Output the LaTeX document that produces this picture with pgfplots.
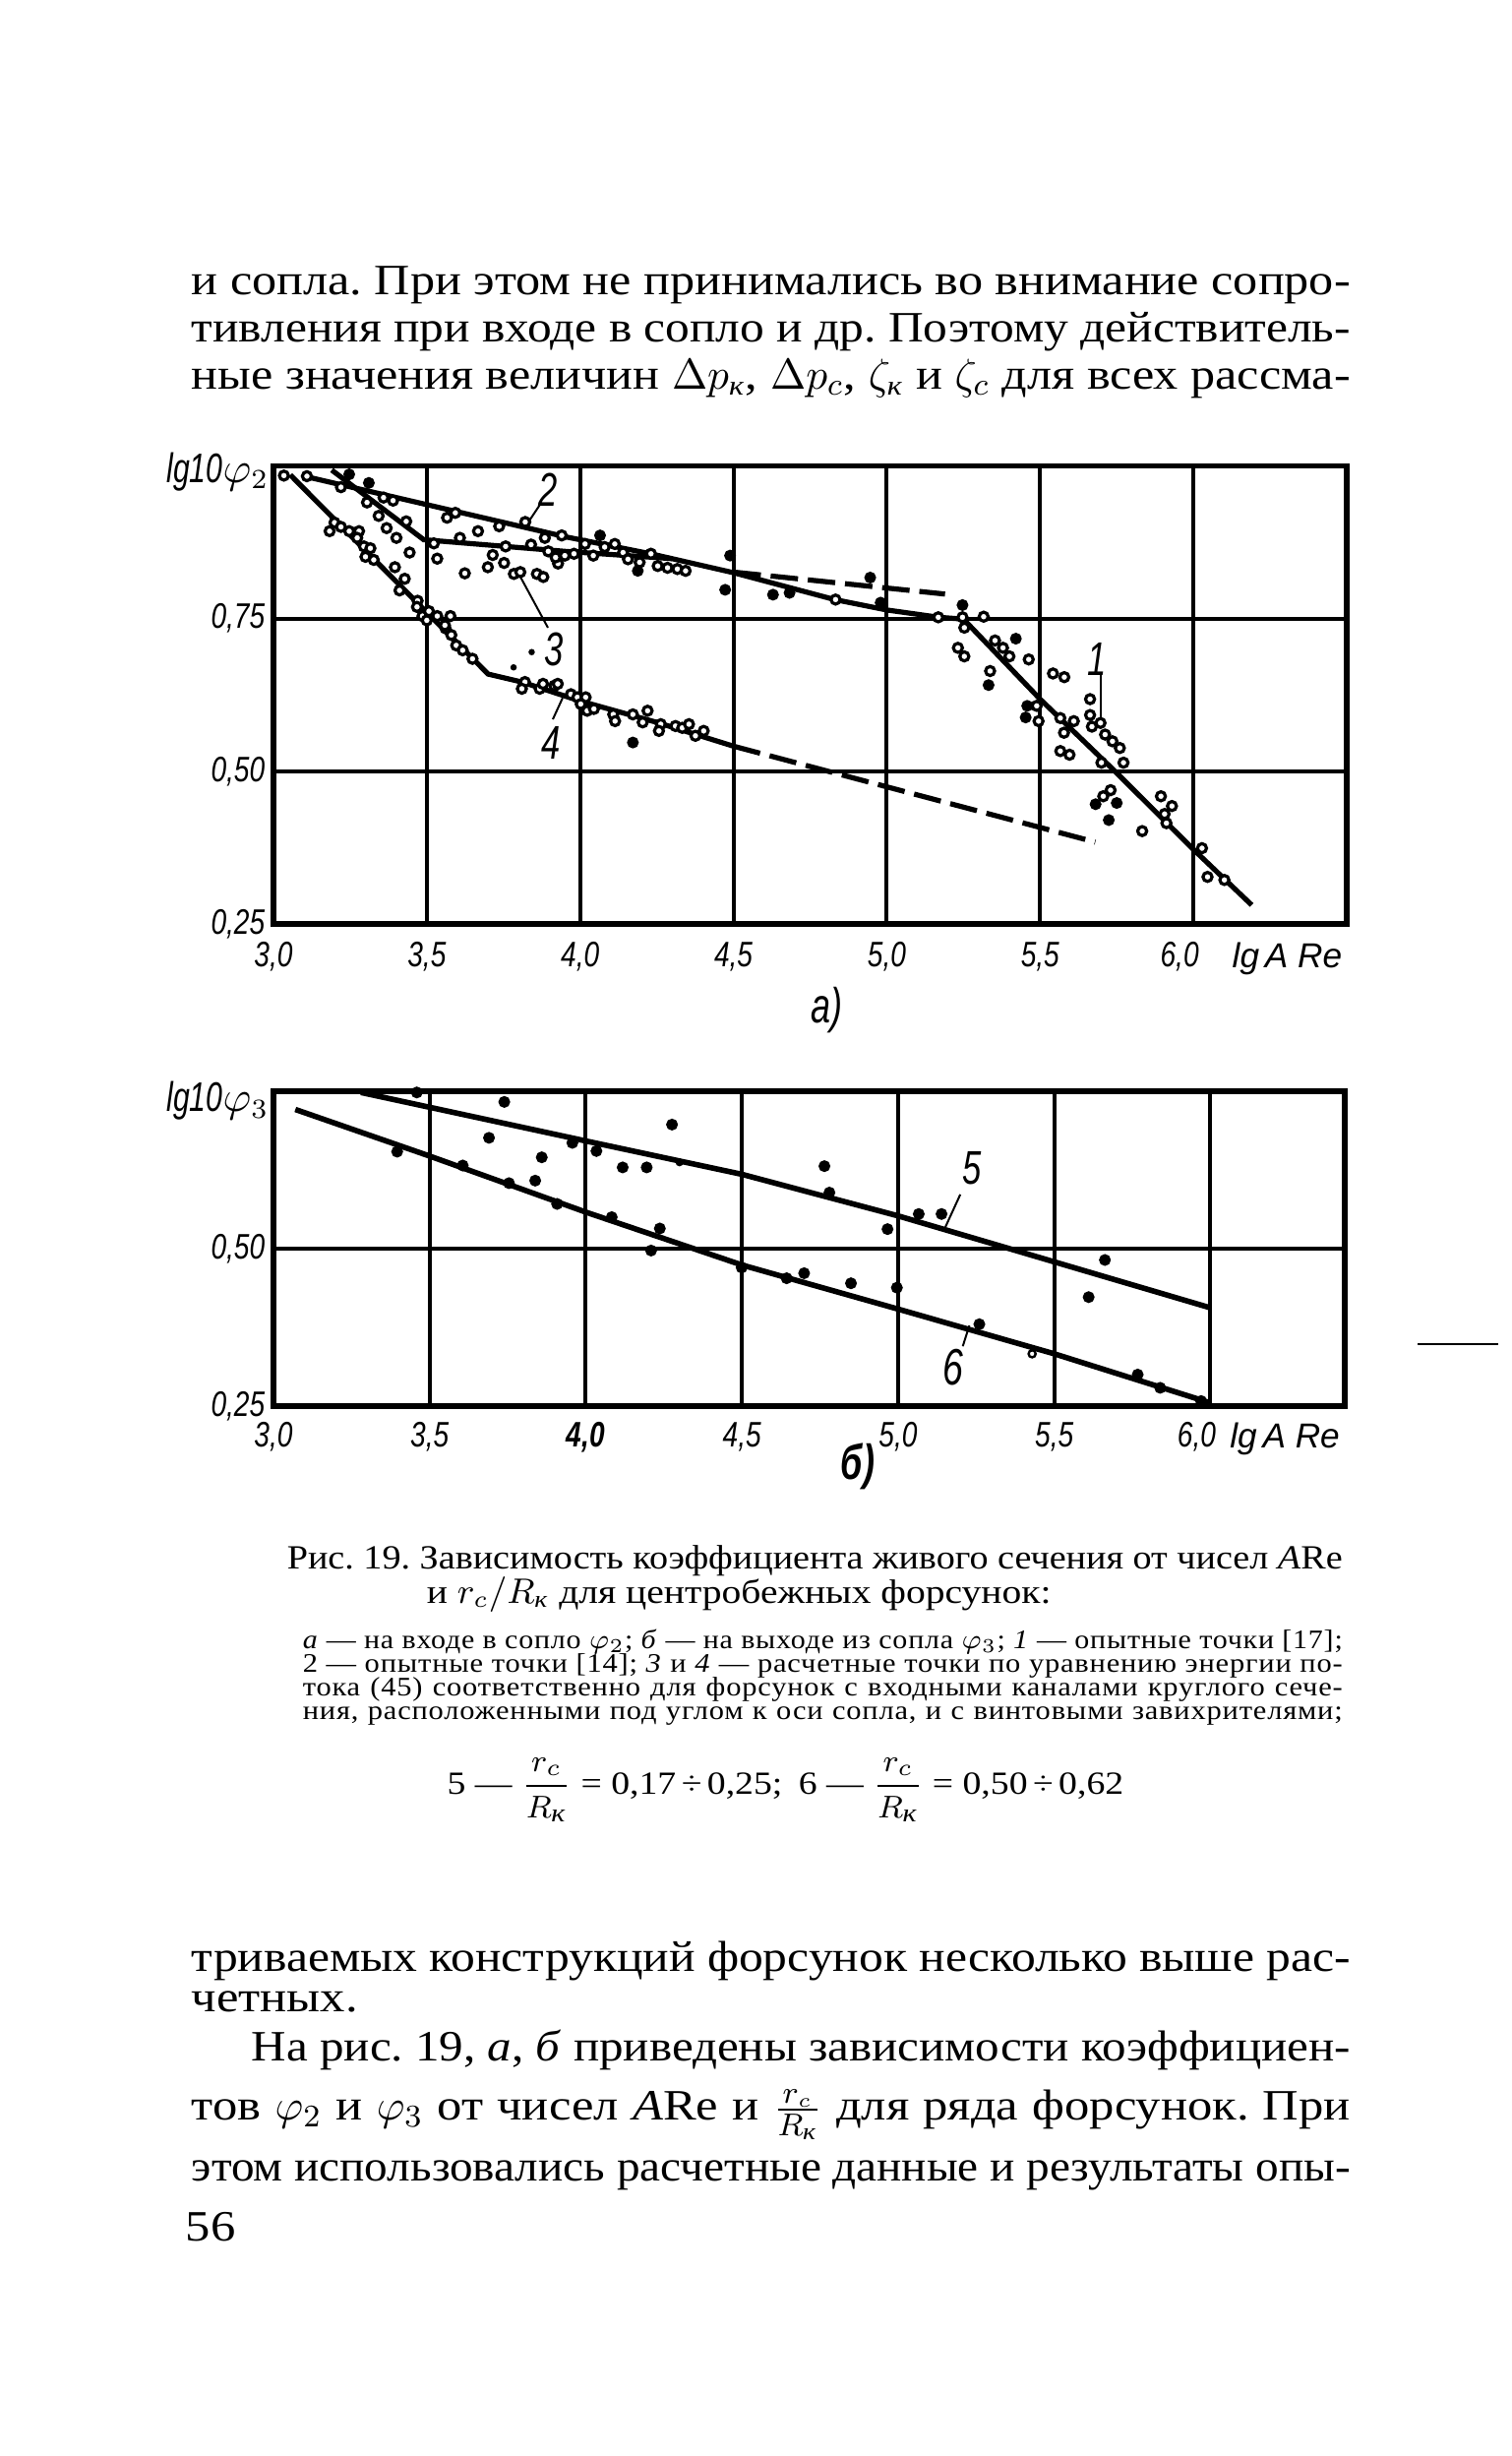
\documentclass[border=0pt]{standalone}
\usepackage{fontspec}
\usepackage{graphicx}
\setmainfont{Liberation Serif}[FakeStretch=1.15]
\newfontfamily\legfont{Liberation Serif}[FakeStretch=1.12,LetterSpace=3]
\newfontfamily\chartfont{Liberation Sans}[FakeStretch=0.72]
\newfontfamily\chartfontt{Liberation Sans}[FakeStretch=0.78]
\newfontfamily\chartfontw{Liberation Sans}
\usepackage{pgfplots}
\pgfplotsset{compat=1.18}
\frenchspacing
\newcommand\bodyf{\fontsize{11}{12}\selectfont}
\newcommand\capf{\fontsize{8.6}{9}\selectfont}
\newcommand\legf{\legfont\fontsize{6.8}{7}\selectfont}
\newcommand\tickf{\chartfontt\itshape\fontsize{9}{9}\selectfont}
\newcommand\xlabf{\chartfontw\itshape\fontsize{8.8}{8.8}\selectfont}
\newcommand\lblf{\chartfont\itshape\fontsize{12}{12}\selectfont}
\newcommand\kk[1][7]{\mbox{\fontsize{#1}{#1}\selectfont\itshape к}}
\newsavebox\jbox
\newcommand\jl[5]{\node[anchor=base west,inner sep=0pt] at (#1pt,#2pt) {#4\sbox\jbox{#5}\ifdim\wd\jbox>#3pt\relax\resizebox{#3pt}{\height}{\usebox\jbox}\else\makebox[#3pt][s]{#5}\fi};}
\newcommand\lt[4]{\node[anchor=base west,inner sep=0pt] at (#1pt,#2pt) {#3#4};}
\tikzset{pointer/.style={black, line width=0.5pt}}
\pgfplotsset{
  openpt/.style={only marks, mark=*, mark size=1.15pt, mark options={fill=white, draw=black, line width=0.8pt}},
  fullpt/.style={only marks, mark=*, mark size=1.3pt, mark options={fill=black, draw=black}},
  curve/.style={black, line width=1.3pt},
  dcurve/.style={black, line width=1.3pt, dash pattern=on 7pt off 2.5pt},
}
\begin{document}
\begin{tikzpicture}
\path[use as bounding box] (0pt,0pt) rectangle (384pt,624pt);
% ---------- top text ----------
\jl{48.5}{549}{294.5}{\bodyf}{и сопла. При этом не принимались во внимание сопро-}
\jl{48.5}{537}{294.5}{\bodyf}{тивления при входе в сопло и др. Поэтому действитель-}
\jl{48.5}{525.2}{294.5}{\bodyf}{ные значения величин $\Delta p_{\kk}$, $\Delta p_{c}$, $\zeta_{\kk}$ и $\zeta_{c}$ для всех рассма-}

% ---------- chart a ----------
\begin{axis}[
  at={(69.5pt,389.25pt)}, anchor=south west, scale only axis,
  width=272.75pt, height=116.4pt,
  xmin=3, xmax=6.5, ymin=0.25, ymax=1,
  xtick={3,3.5,4,4.5,5,5.5,6},
  xticklabels={{3,0},{3,5},{4,0},{4,5},{5,0},{5,5},{6,0\hspace*{7pt}}},
  ytick={0.25,0.5,0.75}, yticklabels={{0,25},{0,50},{0,75}},
  grid=major, major grid style={line width=1pt, black},
  axis line style={line width=1.4pt},
  major tick length=0pt, tick style={draw=none},
  xticklabel style={font=\tickf, anchor=north, inner sep=0pt, yshift=-4.5pt},
  yticklabel style={font=\tickf, anchor=east, inner sep=0pt, xshift=-2pt},
  clip=false,
]
\addplot[curve] coordinates {(3.10,0.983) (3.95,0.884) (4.23,0.856) (4.50,0.825) (4.83,0.781) (5.00,0.764) (5.17,0.752) (5.25,0.749)};
\addplot[dcurve] coordinates {(4.50,0.826) (5.19,0.790)};
\addplot[curve] coordinates {(3.19,0.993) (3.49,0.879) (3.95,0.860) (4.30,0.848)};
\addplot[curve] coordinates {(5.25,0.749) (5.50,0.618) (5.74,0.502) (6.00,0.372) (6.19,0.281)};
\addplot[curve] coordinates {(3.055,0.985) (3.70,0.659) (3.81,0.646) (4.00,0.615) (4.25,0.580) (4.50,0.541)};
\addplot[dcurve] coordinates {(4.50,0.541) (5.68,0.384)};
\addplot[openpt] coordinates {
(3.034,0.984) (3.109,0.983) (3.22,0.965) (3.359,0.948) (3.39,0.943) (3.305,0.94) (3.343,0.918) (3.369,0.898) (3.401,0.882) (3.433,0.909) (3.444,0.858) (3.534,0.848) (3.624,0.824) (3.566,0.915) (3.593,0.923) (3.667,0.893) (3.699,0.834) (3.715,0.854) (3.736,0.901) (3.752,0.841) (3.757,0.868) (3.784,0.823) (3.805,0.826) (3.859,0.823) (3.88,0.818) (3.821,0.908) (3.84,0.871) (3.885,0.882) (3.896,0.86) (3.928,0.84) (3.523,0.873) (3.608,0.882)
(3.183,0.893) (3.199,0.907) (3.22,0.90) (3.247,0.893) (3.279,0.893) (3.273,0.882) (3.295,0.868) (3.316,0.865) (3.30,0.851) (3.327,0.846) (3.396,0.834) (3.428,0.815) (3.411,0.796) (3.47,0.779) (3.486,0.754) (3.507,0.762) (3.534,0.754) (3.577,0.754) (3.561,0.734)
(3.468,0.769) (3.5,0.747) (3.559,0.739) (3.58,0.723) (3.596,0.706) (3.617,0.698) (3.649,0.684) (3.82,0.646) (3.81,0.635) (3.868,0.635) (3.879,0.643) (3.916,0.64) (3.927,0.643) (3.97,0.626) (3.991,0.621) (4.018,0.621) (4.002,0.61) (4.023,0.599) (4.045,0.602) (4.108,0.593) (4.114,0.582) (4.172,0.593) (4.22,0.599) (4.204,0.58) (4.263,0.577) (4.257,0.566) (4.311,0.574) (4.333,0.571) (4.355,0.577) (4.376,0.558) (4.403,0.566)
(3.94,0.886) (3.92,0.85) (3.95,0.853) (3.98,0.856) (4.016,0.872) (4.043,0.853) (4.08,0.867) (4.113,0.872) (4.14,0.858) (4.156,0.847) (4.194,0.842) (4.231,0.856) (4.253,0.836) (4.285,0.833) (4.317,0.831) (4.344,0.828) (4.833,0.781)
(5.168,0.752) (5.247,0.752) (5.253,0.735) (5.316,0.753) (5.232,0.702) (5.253,0.688) (5.353,0.714) (5.379,0.702) (5.4,0.688) (5.463,0.683) (5.337,0.664) (5.542,0.66) (5.579,0.654) (5.489,0.607) (5.495,0.582) (5.566,0.587) (5.61,0.582) (5.578,0.563) (5.663,0.618) (5.663,0.592) (5.669,0.573) (5.697,0.579) (5.712,0.560) (5.736,0.549) (5.76,0.538) (5.70,0.514) (5.772,0.514) (5.566,0.533) (5.596,0.527) (5.73,0.469) (5.706,0.459) (5.894,0.459) (5.93,0.443) (5.906,0.430) (5.912,0.415) (5.833,0.402) (6.028,0.374) (6.046,0.327) (6.101,0.322)
};
\addplot[fullpt] coordinates {
(3.247,0.986) (3.311,0.972) (4.065,0.886) (4.188,0.828) (4.489,0.853) (4.473,0.797) (4.629,0.789) (4.683,0.792) (4.946,0.817) (4.98,0.776) (5.247,0.772) (5.421,0.717) (5.332,0.641) (5.458,0.607) (5.453,0.588) (5.681,0.446) (5.75,0.448) (5.724,0.420) (4.172,0.547)
};
\addplot[only marks, mark=*, mark size=0.6pt] coordinates {(3.783,0.670) (3.842,0.695)};
\draw[pointer] (axis cs:3.874,0.940) -- (axis cs:3.830,0.907);
\node[font=\lblf] at (axis cs:3.895,0.960) {2};
\draw[pointer] (axis cs:3.800,0.823) -- (axis cs:3.895,0.735);
\node[font=\lblf] at (axis cs:3.916,0.700) {3};
\draw[pointer] (axis cs:3.911,0.585) -- (axis cs:3.943,0.620);
\node[font=\lblf] at (axis cs:3.906,0.547) {4};
\draw[pointer] (axis cs:5.697,0.660) -- (axis cs:5.697,0.580);
\node[font=\lblf] at (axis cs:5.687,0.684) {1};
\node[font=\xlabf, anchor=north east, inner sep=0pt, yshift=-4.5pt, xshift=-1pt] at (axis cs:6.5,0.25) {lg\,A Re};
\node[anchor=east, inner sep=0pt, xshift=-1pt, yshift=-1.5pt] at (rel axis cs:0,1) {\chartfont\itshape\fontsize{10.5}{10.5}\selectfont lg10$\varphi_2$};
\end{axis}
\node[font=\chartfont\itshape\fontsize{12.5}{12.5}\selectfont] at (210pt,367.25pt) {a)};

% ---------- chart b ----------
\begin{axis}[
  at={(69.5pt,266.75pt)}, anchor=south west, scale only axis,
  width=272.25pt, height=80pt,
  xmin=3, xmax=6.43, ymin=0.25, ymax=0.75,
  xtick={3,3.5,4,4.5,5,5.5,6},
  xticklabels={{3,0},{3,5},{\bfseries 4,0},{4,5},{5,0},{5,5},{6,0\hspace*{7pt}}},
  ytick={0.25,0.5}, yticklabels={{0,25},{0,50}},
  grid=major, major grid style={line width=1pt, black},
  axis line style={line width=1.4pt},
  major tick length=0pt, tick style={draw=none},
  xticklabel style={font=\tickf, anchor=north, inner sep=0pt, yshift=-4pt},
  yticklabel style={font=\tickf, anchor=east, inner sep=0pt, xshift=-2pt},
  clip=false,
]
\addplot[black, line width=1.4pt] coordinates {(3.28,0.748) (4.0,0.671) (4.5,0.618) (5.0,0.552) (5.5,0.479) (6.0,0.406)};
\addplot[black, line width=1.4pt] coordinates {(3.07,0.721) (3.5,0.647) (4.0,0.558) (4.5,0.474) (5.0,0.404) (5.5,0.333) (6.0,0.255)};
\addplot[fullpt] coordinates {
(3.459,0.748) (3.739,0.733) (3.690,0.676) (3.396,0.654) (3.606,0.632) (3.859,0.645) (3.838,0.608) (3.754,0.604) (3.908,0.571) (3.957,0.668) (4.034,0.655) (4.118,0.629) (4.195,0.629) (4.276,0.697) (4.083,0.55) (4.237,0.532) (4.209,0.497) (4.499,0.470) (4.643,0.453) (4.699,0.461) (4.764,0.631) (4.780,0.589) (4.966,0.531) (5.066,0.555) (5.139,0.555) (4.849,0.445) (4.996,0.438) (5.26,0.380) (5.662,0.482) (5.61,0.423) (5.767,0.300) (5.839,0.279) (5.97,0.258)
};
\addplot[only marks, mark=*, mark size=0.8pt] coordinates {(4.30,0.637)};
\addplot[only marks, mark=o, mark size=0.9pt, mark options={line width=0.6pt}] coordinates {(5.429,0.333)};
\draw[pointer] (axis cs:5.199,0.586) -- (axis cs:5.151,0.534);
\node[font=\lblf] at (axis cs:5.236,0.628) {5};
\draw[pointer] (axis cs:5.207,0.345) -- (axis cs:5.228,0.378);
\node[font=\chartfont\itshape\fontsize{13}{13}\selectfont] at (axis cs:5.175,0.311) {6};
\node[font=\xlabf, anchor=north west, inner sep=0pt, yshift=-4pt] at (axis cs:6.06,0.25) {lg\,A Re};
\node[anchor=east, inner sep=0pt, xshift=-1pt, yshift=-2.5pt] at (rel axis cs:0,1) {\chartfont\itshape\fontsize{10.5}{10.5}\selectfont lg10$\varphi_3$};
\end{axis}
\node[font=\chartfont\bfseries\itshape\fontsize{12.5}{12.5}\selectfont] at (218pt,251.5pt) {б)};

% ---------- caption ----------
\jl{72.75}{225.25}{268.25}{\capf}{Рис. 19. Зависимость коэффициента живого сечения от чисел \textit{A}Re}
\lt{108.25}{216.5}{\capf}{и $r_c/R_{\kk[6]}$ для центробежных форсунок:}
\jl{76.75}{205}{264.25}{\legf}{\textit{а} — на входе в сопло $\varphi_2$; \textit{б} — на выходе из сопла $\varphi_3$; \textit{1} — опытные точки [17];}
\jl{76.75}{199}{264.25}{\legf}{2 — опытные точки [14]; \textit{3} и \textit{4} — расчетные точки по уравнению энергии по-}
\jl{76.75}{193}{264.25}{\legf}{тока (45) соответственно для форсунок с входными каналами круглого сече-}
\jl{76.75}{187}{264.25}{\legf}{ния, расположенными под углом к оси сопла, и с винтовыми завихрителями;}
\node[inner sep=0pt] at (199.6pt,169.25pt) {\fontsize{8.2}{9}\selectfont 5 — ${\displaystyle\frac{r_c}{R_{\kk[6.5]}}}$ = 0,17\,÷\,0,25;\enspace 6 — ${\displaystyle\frac{r_c}{R_{\kk[6.5]}}}$ = 0,50\,÷\,0,62};

% ---------- bottom text ----------
\jl{48.5}{123}{294.5}{\bodyf}{триваемых конструкций форсунок несколько выше рас-}
\lt{48.5}{112.75}{\bodyf}{четных.}
\jl{63.75}{100.25}{279.25}{\bodyf}{На рис. 19, \textit{а}, \textit{б} приведены зависимости коэффициен-}
\jl{48.5}{85.25}{294.5}{\bodyf}{тов $\varphi_2$ и $\varphi_3$ от чисел \textit{A}Re и $\frac{r_c}{R_{\kk[6]}}$ для ряда форсунок. При}
\jl{48.5}{69.75}{294.5}{\bodyf}{этом использовались расчетные данные и результаты опы-}
\lt{47}{54.5}{\bodyf}{56}
\draw[line width=0.4pt] (360.25pt,282.5pt) -- (380.75pt,282.5pt);
\end{tikzpicture}
\end{document}
